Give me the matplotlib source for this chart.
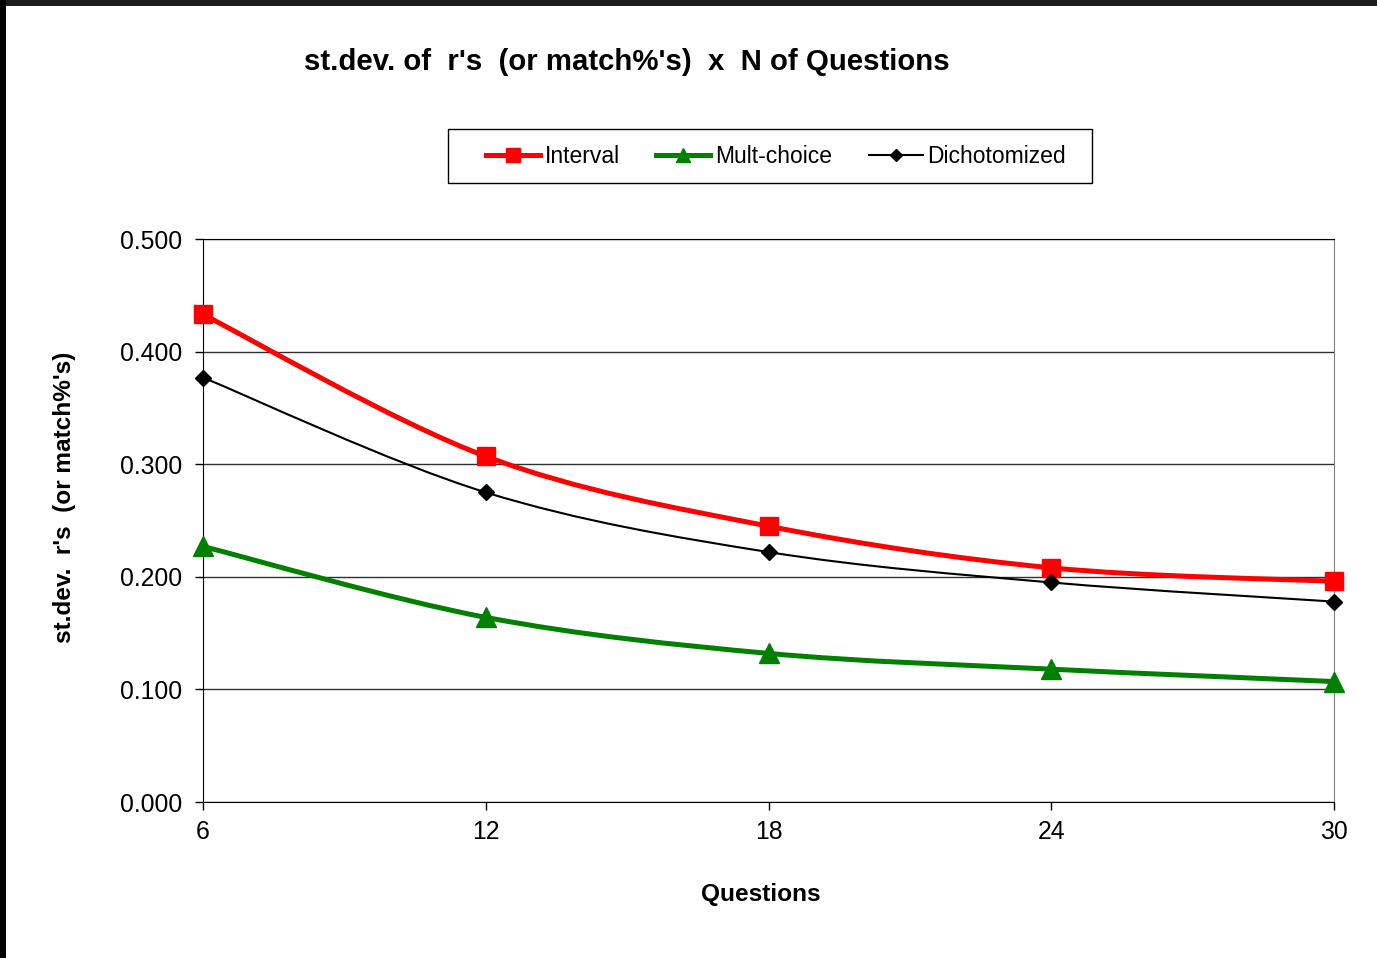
import numpy as np
import matplotlib
matplotlib.use("Agg")
import matplotlib.pyplot as plt
from matplotlib.path import Path
from matplotlib.patches import PathPatch, Rectangle
from matplotlib.lines import Line2D

questions = [6, 12, 18, 24, 30]
interval = [0.433, 0.307, 0.245, 0.208, 0.196]
mult_choice = [0.227, 0.164, 0.132, 0.118, 0.107]
dichotomized = [0.377, 0.275, 0.222, 0.195, 0.178]

plt.rcParams['font.family'] = ['Liberation Sans', 'DejaVu Sans']


def smooth_path(x, y):
    # bezier curve through every point, like a spreadsheet "smoothed line"
    pts = np.column_stack([x, y]).astype(float)
    n = len(pts)
    verts = [pts[0]]
    codes = [Path.MOVETO]
    for i in range(n - 1):
        p0 = pts[i - 1] if i > 0 else pts[i]
        p1 = pts[i]
        p2 = pts[i + 1]
        p3 = pts[i + 2] if i + 2 < n else pts[i + 1]
        c1 = p1 + (p2 - p0) / 6.0
        c2 = p2 - (p3 - p1) / 6.0
        verts += [c1, c2, p2]
        codes += [Path.CURVE4] * 3
    return Path(verts, codes)


fig = plt.figure(figsize=(13.77, 9.58), dpi=100)
ax = fig.add_axes([0.1474, 0.1628, 0.8214, 0.5877])

series = [
    (interval, 'Interval', 'red', 's', 13, 3.6, 4),
    (mult_choice, 'Mult-choice', 'green', '^', 14, 3.6, 3),
    (dichotomized, 'Dichotomized', 'black', 'D', 8, 1.5, 5),
]

handles = []
for vals, name, col, mk, ms, lw, z in series:
    patch = PathPatch(smooth_path(questions, vals), fill=False,
                      edgecolor=col, linewidth=lw, zorder=z, capstyle='round')
    ax.add_patch(patch)
    ax.plot(questions, vals, linestyle='none', marker=mk, markersize=ms,
            color=col, zorder=z + 0.5, clip_on=False)
    handles.append(Line2D([], [], color=col, linewidth=lw, marker=mk,
                          markersize=ms * 0.75, label=name))

ax.set_xlim(6, 30)
ax.set_ylim(0, 0.5)
ax.set_xticks(questions)
ax.set_yticks(np.arange(0, 0.51, 0.1))
ax.yaxis.set_major_formatter(matplotlib.ticker.FormatStrFormatter('%.3f'))
ax.tick_params(labelsize=17.8, length=6, width=1, direction='out')
ax.tick_params(axis='y', pad=9)
ax.tick_params(axis='x', pad=7)
ax.grid(axis='y', color='#303030', linewidth=1)
ax.set_axisbelow(True)
for side in ['left', 'bottom', 'top']:
    ax.spines[side].set_color('black')
ax.spines['right'].set_color('#808080')

ax.set_xlabel('Questions', fontsize=17.6, fontweight='bold')
ax.xaxis.set_label_coords(0.4934, -0.144)
fig.text(65 / 1377, 1 - 497 / 958, "st.dev.  r's  (or match%'s)",
         rotation=90, ha='center', va='center', fontsize=17.6,
         fontweight='bold')
fig.text(0.455, 0.935, "st.dev. of  r's  (or match%'s)  x  N of Questions",
         ha='center', va='center', fontsize=21.2, fontweight='bold')

leg = fig.legend(handles=handles, loc='center', bbox_to_anchor=(0.5635, 0.837),
                 ncol=3, fontsize=16.5, frameon=False,
                 handlelength=2.36, handletextpad=0.2,
                 columnspacing=1.6, borderpad=0.0)
# legend box outline
fig.patches.append(Rectangle((448, 958 - 183), 644, 54, transform=None,
                             facecolor='none', edgecolor='black',
                             linewidth=1))

# dark frame along the top and left edges
fig.patches.append(Rectangle((0, 952), 1377, 6, transform=None,
                             facecolor='#1c1c1c', edgecolor='none'))
fig.patches.append(Rectangle((0, 0), 6, 958, transform=None,
                             facecolor='black', edgecolor='none'))

fig.savefig('out.png', dpi=100)
